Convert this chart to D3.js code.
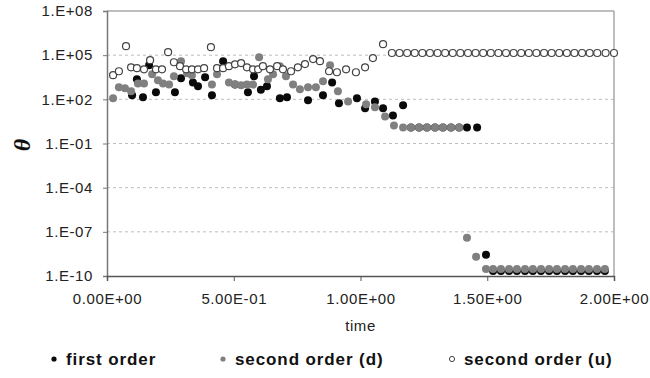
<!DOCTYPE html>
<html>
<head>
<meta charset="utf-8">
<script src="https://cdn.jsdelivr.net/npm/d3@7"></script>
<style>
  body { margin: 0; background: #fff; }
  svg { font-family: "Liberation Sans", Arial, sans-serif; }
</style>
</head>
<body>
<svg id="chart"></svg>
<script>
// values (time, theta)
const firstTime = [0.099, 0.118, 0.142, 0.166, 0.193, 0.268, 0.292, 0.339, 0.359, 0.387, 0.414, 0.458, 0.505, 0.556, 0.580, 0.607, 0.631,
  0.682, 0.710, 0.793, 0.852, 0.888, 0.915, 0.986, 1.018, 1.057, 1.089, 1.128, 1.168, 1.199, 1.231, 1.262, 1.294, 1.325, 1.357, 1.389,
  1.420, 1.460, 1.495, 1.523, 1.554, 1.586, 1.617, 1.649, 1.680, 1.712, 1.744, 1.775, 1.807, 1.838, 1.870, 1.901, 1.933, 1.964];
const firstTheta = [1.9e2, 2.3e3, 1.4e2, 2.1e4, 3.0e2, 3.0e2, 2.7e3, 1.4e3, 7.8e2, 3.2e3, 1.9e2, 3.9e4, 1.0e3, 3.0e2, 3.7e3, 4.5e2, 7.8e2,
  1.2e2, 1.4e2, 85, 1.9e2, 1.4e3, 54, 1.2e2, 25, 72, 25, 8, 39, 1.2, 1.2, 1.2, 1.2, 1.2, 1.2, 1.2,
  1.2, 1.2, 2.8e-9, 2.2e-10, 2.2e-10, 2.2e-10, 2.2e-10, 2.2e-10, 2.2e-10, 2.2e-10, 2.2e-10, 2.2e-10, 2.2e-10, 2.2e-10, 2.2e-10, 2.2e-10, 2.2e-10, 2.2e-10];

const secondDTime = [0.024, 0.047, 0.071, 0.095, 0.122, 0.146, 0.178, 0.201, 0.221, 0.245, 0.264, 0.292, 0.316, 0.335, 0.414, 0.434, 0.481,
  0.505, 0.529, 0.552, 0.576, 0.600, 0.635, 0.655, 0.682, 0.706, 0.734, 0.761, 0.793, 0.824, 0.852, 0.880, 0.911, 0.951, 1.022, 1.057,
  1.097, 1.132, 1.168, 1.199, 1.231, 1.262, 1.294, 1.325, 1.357, 1.389, 1.420, 1.456, 1.495,
  1.523, 1.554, 1.586, 1.617, 1.649, 1.680, 1.712, 1.744, 1.775, 1.807, 1.838, 1.870, 1.901, 1.933, 1.964];
const secondDTheta = [1.2e2, 6.6e2, 5.6e2, 3.5e2, 1.2e3, 1.2e3, 5.1e3, 2.0e3, 1.2e3, 1.0e3, 3.7e3, 3.9e4, 5.9e3, 4.4e3, 1.0e3, 5.1e3, 1.4e3,
  1.0e3, 9.1e2, 1.0e3, 1.0e3, 7.2e4, 2.3e3, 5.1e3, 1.8e4, 3.7e3, 1.0e3, 4.8e2, 6.6e2, 6.6e2, 1.7e3, 2.1e4, 3.5e2, 72, 46, 29,
  6.9, 1.7, 1.2, 1.2, 1.2, 1.2, 1.2, 1.2, 1.2, 1.2, 3.9e-8, 2.0e-9, 3.0e-10,
  3.0e-10, 3.0e-10, 3.0e-10, 3.0e-10, 3.0e-10, 3.0e-10, 3.0e-10, 3.0e-10, 3.0e-10, 3.0e-10, 3.0e-10, 3.0e-10, 3.0e-10, 3.0e-10, 3.0e-10];

const secondUTime = [0.024, 0.047, 0.075, 0.095, 0.118, 0.146, 0.170, 0.193, 0.217, 0.241, 0.264, 0.288, 0.312, 0.335, 0.359, 0.383, 0.410,
  0.434, 0.458, 0.481, 0.505, 0.529, 0.552, 0.576, 0.596, 0.615, 0.643, 0.671, 0.694, 0.726, 0.753, 0.781, 0.813, 0.840, 0.876, 0.907,
  0.943, 0.982, 1.018, 1.049, 1.089,
  1.124, 1.154, 1.184, 1.214, 1.244, 1.274, 1.304, 1.334, 1.364, 1.394, 1.424, 1.454, 1.484, 1.514, 1.544, 1.574, 1.604, 1.634, 1.664,
  1.694, 1.724, 1.754, 1.784, 1.814, 1.844, 1.874, 1.904, 1.934, 1.967, 2.0];
const secondUTheta = [4.4e3, 8.1e3, 4.1e5, 1.5e4, 1.3e4, 1.1e4, 4.6e4, 1.1e4, 1.1e4, 1.6e5, 3.3e4, 1.8e4, 1.1e4, 1.1e4, 1.1e4, 1.3e4, 3.5e5,
  1.3e4, 1.3e4, 1.8e4, 2.4e4, 2.9e4, 1.5e4, 1.1e4, 1.1e4, 1.8e4, 1.1e4, 1.8e4, 1.1e4, 8.1e3, 1.5e4, 2.5e4, 5.4e4, 3.9e4, 8.1e3, 6.9e3,
  1.1e4, 6.9e3, 1.5e4, 6.3e4, 5.6e5,
  1.4e5, 1.4e5, 1.4e5, 1.4e5, 1.4e5, 1.4e5, 1.4e5, 1.4e5, 1.4e5, 1.4e5, 1.4e5, 1.4e5, 1.4e5, 1.4e5, 1.4e5, 1.4e5, 1.4e5, 1.4e5, 1.4e5,
  1.4e5, 1.4e5, 1.4e5, 1.4e5, 1.4e5, 1.4e5, 1.4e5, 1.4e5, 1.4e5, 1.4e5, 1.4e5];

const xTicks = [0, 0.5, 1, 1.5, 2];
const xTickLabels = ["0.00E+00", "5.00E-01", "1.00E+00", "1.50E+00", "2.00E+00"];
const yTicks = [1e-10, 1e-7, 1e-4, 1e-1, 1e2, 1e5, 1e8];
const yTickLabels = ["1.E-10", "1.E-07", "1.E-04", "1.E-01", "1.E+02", "1.E+05", "1.E+08"];

const seriesNames = ["first order", "second order (d)", "second order (u)"];

const W = 650, H = 378;
const margin = { top: 11, right: 36, bottom: 102, left: 107 };
const width = W - margin.left - margin.right;
const height = H - margin.top - margin.bottom;

const svg = d3.select("#chart").attr("width", W).attr("height", H);
const g = svg.append("g").attr("transform", "translate(" + margin.left + "," + margin.top + ")");

const x = d3.scaleLinear().domain([0, 2]).range([0, width]);
const y = d3.scaleLog().domain([1e-10, 1e8]).range([height, 0]);

// gridlines
g.selectAll(".grid")
  .data(yTicks.slice(1, -1))
  .enter().append("line")
  .attr("x1", 0).attr("x2", width)
  .attr("y1", d => y(d)).attr("y2", d => y(d))
  .attr("stroke", "#bdbdbd")
  .attr("stroke-width", 1)
  .attr("stroke-dasharray", "3,3");

// frame top/right
g.append("line").attr("x1", 0).attr("x2", width).attr("y1", 0).attr("y2", 0)
  .attr("stroke", "#a8a8a8").attr("stroke-width", 1.5);
g.append("line").attr("x1", width).attr("x2", width).attr("y1", 0).attr("y2", height)
  .attr("stroke", "#a8a8a8").attr("stroke-width", 1.5);

const tickText = sel => sel.selectAll("text")
  .attr("fill", "#222")
  .style("font-size", "15px")
  .style("letter-spacing", "0.6px");

const yAxis = g.append("g")
  .call(d3.axisLeft(y).tickValues(yTicks).tickFormat((d, i) => yTickLabels[i]).tickSize(4).tickPadding(10));
yAxis.select(".domain").attr("stroke", "#777").attr("stroke-width", 1.5);
yAxis.selectAll(".tick line").attr("stroke", "#777");
tickText(yAxis);

const xAxis = g.append("g")
  .attr("transform", "translate(0," + height + ")")
  .call(d3.axisBottom(x).tickValues(xTicks).tickFormat((d, i) => xTickLabels[i]).tickSize(5).tickPadding(12));
xAxis.select(".domain").attr("stroke", "#555").attr("stroke-width", 1.5);
xAxis.selectAll(".tick line").attr("stroke", "#555");
tickText(xAxis);

// axis titles
g.append("text")
  .attr("x", width / 2).attr("y", 320)
  .attr("text-anchor", "middle")
  .attr("fill", "#222")
  .style("font-size", "15px")
  .style("letter-spacing", "0.6px")
  .text("time");

svg.append("text")
  .attr("transform", "translate(30,145) rotate(-90)")
  .attr("text-anchor", "middle")
  .style("font-family", "'Liberation Serif', 'Times New Roman', serif")
  .style("font-style", "italic")
  .style("font-weight", "bold")
  .style("font-size", "24px")
  .attr("fill", "#111")
  .text("θ");

// points
const zip = (ts, vs) => ts.map((t, i) => ({ t: t, v: vs[i] }));
const R = 4;

g.selectAll(".p1").data(zip(firstTime, firstTheta)).enter().append("circle")
  .attr("cx", d => x(d.t)).attr("cy", d => y(d.v)).attr("r", R)
  .attr("fill", "#0a0a0a");

g.selectAll(".p2").data(zip(secondDTime, secondDTheta)).enter().append("circle")
  .attr("cx", d => x(d.t)).attr("cy", d => y(d.v)).attr("r", R)
  .attr("fill", "#808080");

g.selectAll(".p3").data(zip(secondUTime, secondUTheta)).enter().append("circle")
  .attr("cx", d => x(d.t)).attr("cy", d => y(d.v)).attr("r", R - 0.5)
  .attr("fill", "#fff").attr("stroke", "#444").attr("stroke-width", 1.2);

// legend
const legendX = [54, 223, 452];
const leg = svg.append("g").attr("transform", "translate(0,359)");
leg.selectAll("circle").data(seriesNames).enter().append("circle")
  .attr("cx", (d, i) => legendX[i]).attr("cy", 0).attr("r", 2.6)
  .attr("fill", (d, i) => i === 0 ? "#0a0a0a" : (i === 1 ? "#808080" : "#fff"))
  .attr("stroke", (d, i) => i === 2 ? "#444" : "none");
leg.selectAll("text").data(seriesNames).enter().append("text")
  .attr("x", (d, i) => legendX[i] + 12).attr("y", 6)
  .attr("fill", "#111")
  .style("font-size", "17px")
  .style("font-weight", "bold")
  .style("letter-spacing", "0.9px")
  .text(d => d);
</script>
</body>
</html>
